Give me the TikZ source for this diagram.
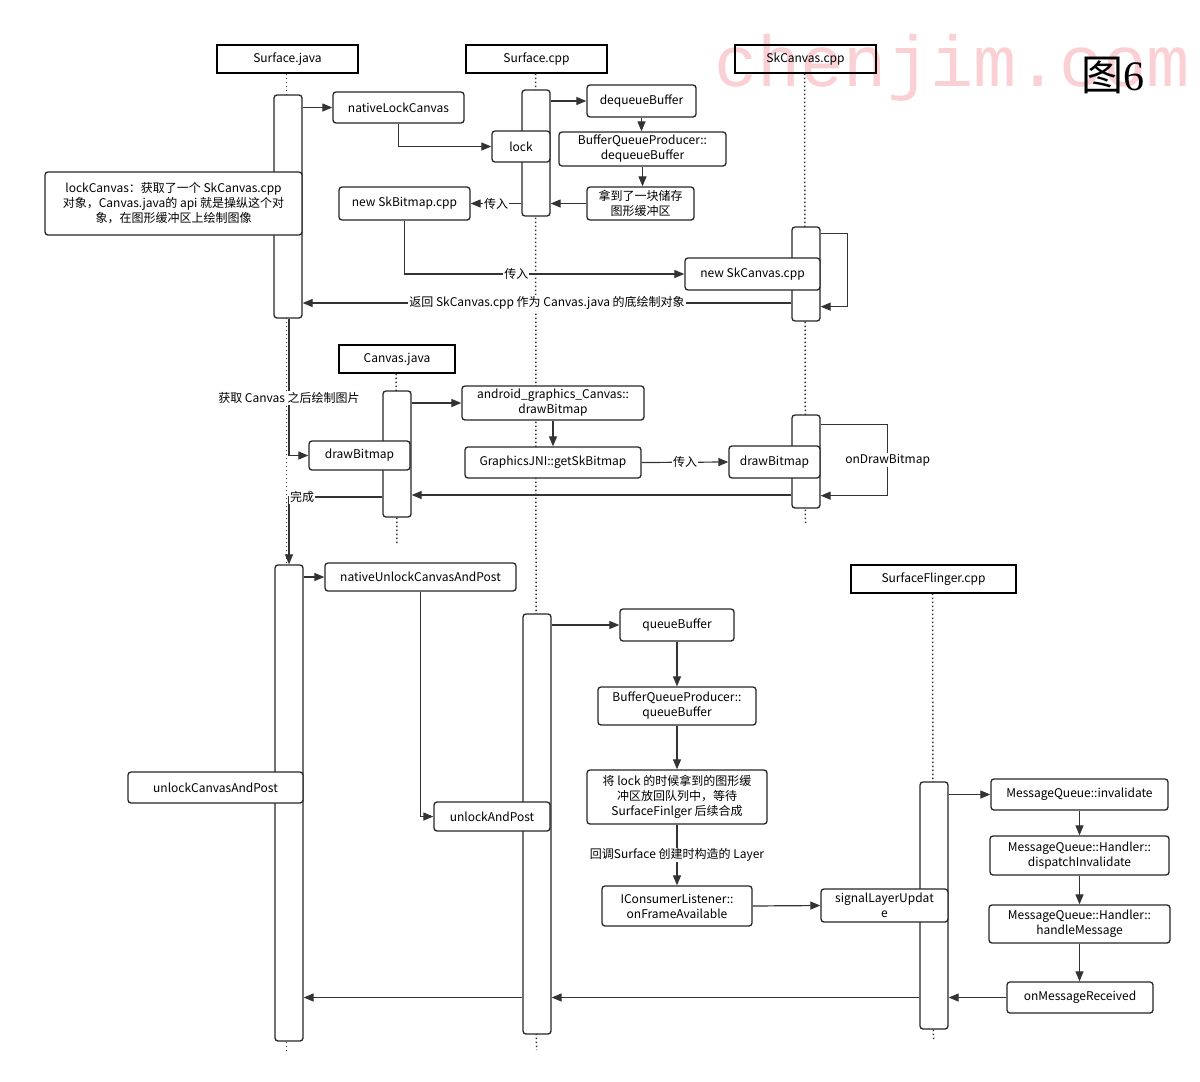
\documentclass[tikz,border=0pt]{standalone}
\usepackage{fontspec}
\setmainfont{Noto Sans CJK SC}
\newfontfamily\wmfont{Liberation Mono}
\newfontfamily\figfont{Liberation Serif}
\usetikzlibrary{arrows.meta}
\definecolor{wmpink}{RGB}{250,208,212}
\definecolor{ln}{RGB}{51,51,51}

\begin{document}
\begin{tikzpicture}[x=1pt,y=-1pt,font=\fontsize{12}{15}\selectfont,
  hdr/.style={draw=black,line width=1.4pt,minimum height=28,inner sep=0pt},
  bar/.style={draw=black!85,line width=1.3pt,fill=white,rounded corners=3,minimum width=28,inner sep=0pt},
  box/.style 2 args={draw=black!85,line width=1.3pt,fill=white,rounded corners=3,align=center,minimum width=#1,minimum height=#2,inner sep=0pt},
  msg/.style={draw=ln,line width=1.2pt,-{Triangle[length=10pt,width=8pt]}},
  life/.style={draw=ln,line width=1.5pt,dash pattern=on 1.5pt off 2.5pt},
  lbl/.style={fill=white,inner sep=1pt}]
\useasboundingbox (0,0) rectangle (1200,1082);
% watermark
\node[anchor=base west,text=wmpink,font=\wmfont\fontsize{72}{72}\selectfont,inner sep=0pt] (wm) at (714,86) {chenjim.com};
\node[font=\fontsize{42}{42}\selectfont] (fig) at (1113,75) {图{\figfont 6}};
% lifelines
\node[hdr,minimum width=141] (sjava) at (287.5,59) {Surface.java};
\node[hdr,minimum width=141] (scpp) at (536.5,59) {Surface.cpp};
\node[hdr,minimum width=141] (skc) at (805.5,59) {SkCanvas.cpp};
\node[hdr,minimum width=116] (cjava) at (397,359) {Canvas.java};
\node[hdr,minimum width=165] (sfl) at (933.5,579) {SurfaceFlinger.cpp};
\coordinate (sjava-end) at (286.5,1050);
\coordinate (scpp-end) at (536.5,1050);
\coordinate (skc-end) at (805.5,525);
\coordinate (cjava-end) at (397,545);
\coordinate (sfl-end) at (933.5,1040);
\foreach \n in {sjava,scpp,skc,cjava,sfl}
  \draw[life] ([xshift=-1pt]\n.south) -- (\n-end);
% activations
\node[bar,minimum height=223] (sj1) at (288,206.5) {};
\node[bar,minimum height=126] (sc1) at (536,153) {};
\node[bar,minimum height=94] (sk1) at (806,274) {};
\node[bar,minimum height=126] (cj1) at (397,454) {};
\node[bar,minimum height=93] (sk2) at (806,461.5) {};
\node[bar,minimum height=476] (sj2) at (289,803) {};
\node[bar,minimum height=420] (sc2) at (537,824) {};
\node[bar,minimum height=247] (sf1) at (934,905.5) {};
% lock
\node[box={131}{31}] (nlc) at (398.5,107.5) {nativeLockCanvas};
\node[box={58}{31}] (lock) at (521,146.5) {lock};
\node[box={109}{32}] (deq) at (641.5,101) {dequeueBuffer};
\node[box={167}{34}] (bqpd) at (642.5,149) {BufferQueueProducer::\\dequeueBuffer};
\node[box={107}{33}] (got) at (640.5,203.5) {拿到了一块储存\\图形缓冲区};
\node[box={131}{33}] (skb) at (404.5,203.5) {new SkBitmap.cpp};
\node[box={257}{63}] (note) at (173.5,203.5) {lockCanvas：获取了一个 SkCanvas.cpp\\对象，Canvas.java的 api 就是操纵这个对\\象，在图形缓冲区上绘制图像};
\node[box={135}{32}] (nskc) at (752.5,274) {new SkCanvas.cpp};
% draw
\node[box={101}{29}] (cdraw) at (359.5,455.5) {drawBitmap};
\node[box={182}{34}] (agc) at (553,403) {android\_graphics\_Canvas::\\drawBitmap};
\node[box={176}{31}] (gjni) at (553,462.5) {GraphicsJNI::getSkBitmap};
\node[box={91}{32}] (skdraw) at (774.5,462) {drawBitmap};
% unlock and post
\node[box={191}{28}] (nucp) at (420.5,577) {nativeUnlockCanvasAndPost};
\node[box={175}{31}] (ucp) at (215.5,787.5) {unlockCanvasAndPost};
\node[box={116}{29}] (uap) at (492,816.5) {unlockAndPost};
\node[box={114}{32}] (qb) at (677,625) {queueBuffer};
\node[box={158}{38}] (bqpq) at (677,706) {BufferQueueProducer::\\queueBuffer};
\node[box={180}{54}] (ret) at (677,797) {将 lock 的时候拿到的图形缓\\冲区放回队列中，等待\\SurfaceFinlger 后续合成};
\node[box={150}{40}] (icl) at (677,906) {IConsumerListener::\\onFrameAvailable};
\node[box={127}{33}] (slu) at (884.5,905.5) {signalLayerUpdat\\e};
\node[box={177}{31}] (mqi) at (1079.5,794.5) {MessageQueue::invalidate};
\node[box={179}{39}] (mqd) at (1079.5,855.5) {MessageQueue::Handler::\\dispatchInvalidate};
\node[box={181}{38}] (mqh) at (1079.5,924) {MessageQueue::Handler::\\handleMessage};
\node[box={146}{31}] (omr) at (1080,997.5) {onMessageReceived};
% messages
\draw[msg] (sj1.east |- nlc) -- (nlc.west);
\draw[msg] (nlc.south) |- (lock.west);
\draw[msg] (sc1.east |- deq) -- (deq.west);
\draw[msg] (deq.south) -- (deq.south |- bqpd.north);
\draw[msg] (bqpd.south) -- (bqpd.south |- got.north);
\draw[msg] (got.west) -- (sc1.east |- got);
\draw[msg] (sc1.west |- skb) -- (skb.east) node[lbl,pos=.5]{传入};
\draw[msg] (skb.south) |- (nskc.west) node[lbl,pos=.7]{传入};
\draw[msg] ([yshift=-7pt]sk1.north east) -- ++(27,0) |- ([yshift=15pt]sk1.south east);
\draw[msg] (sk1.west |- 0,303) -- (sj1.east |- 0,303) node[lbl,pos=.5]{返回 SkCanvas.cpp 作为 Canvas.java 的底绘制对象};
\draw[msg] ([xshift=1pt]sj1.south) |- (cdraw.west) node[lbl,pos=.29]{获取 Canvas 之后绘制图片};
\draw[msg] (cj1.east |- agc) -- (agc.west);
\draw[msg] (agc.south) -- (gjni.north);
\draw[msg] (gjni.east) -- (skdraw.west) node[lbl,pos=.5]{传入};
\draw[msg] ([yshift=-10pt]sk2.north east) -- ++(67,0) |- ([yshift=13pt]sk2.south east) node[lbl,pos=.25]{onDrawBitmap};
\draw[msg] (sk2.west |- 0,495) -- (cj1.east |- 0,495);
\draw[msg] (cj1.west |- 0,497) -| (sj2.north) node[lbl,pos=.43]{完成};
\draw[msg] (sj2.east |- nucp) -- (nucp.west);
\draw[msg] (nucp.south) |- (uap.west);
\draw[msg] (sc2.east |- qb) -- (qb.west);
\draw[msg] (qb.south) -- (bqpq.north);
\draw[msg] (bqpq.south) -- (ret.north);
\draw[msg] (ret.south) -- (icl.north) node[lbl,pos=.5]{回调Surface 创建时构造的 Layer};
\draw[msg] (icl.east) -- (slu.west);
\draw[msg] (sf1.east |- mqi) -- (mqi.west);
\draw[msg] (mqi.south) -- (mqd.north);
\draw[msg] (mqd.south) -- (mqh.north);
\draw[msg] (mqh.south) -- (mqh.south |- omr.north);
\draw[msg] (omr.west) -- (sf1.east |- omr);
\draw[msg] (sf1.west |- omr) -- (sc2.east |- omr);
\draw[msg] (sc2.west |- omr) -- (sj2.east |- omr);
\end{tikzpicture}
\end{document}
